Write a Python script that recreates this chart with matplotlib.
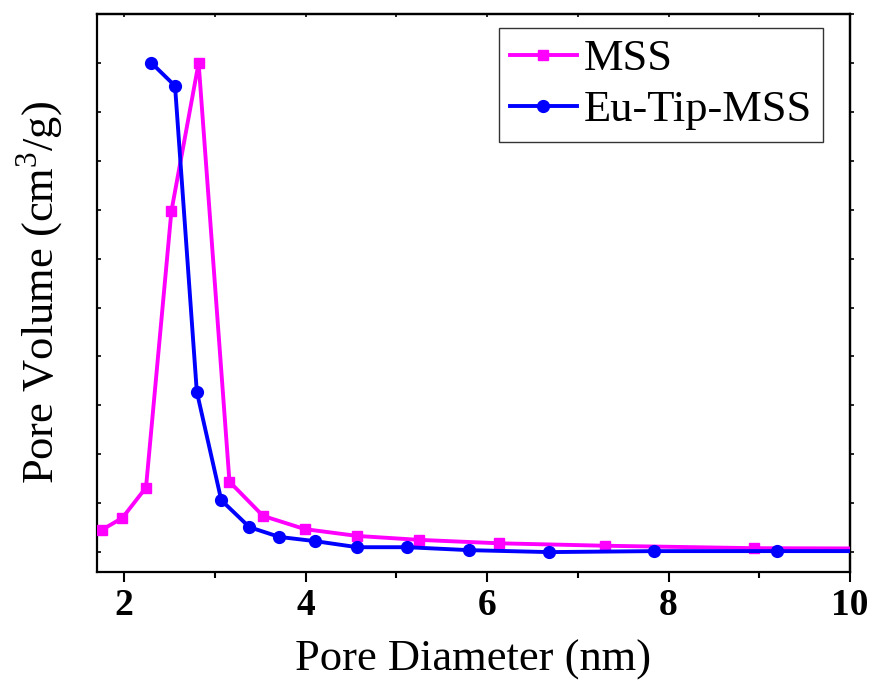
import matplotlib
matplotlib.use("Agg")
import matplotlib.pyplot as plt
from matplotlib.ticker import MultipleLocator, NullFormatter

# Data (y in arbitrary pore-volume units)
mss_x = [1.75, 1.98, 2.24, 2.52, 2.82, 3.16, 3.53, 3.99, 4.57, 5.25, 6.13, 7.30, 8.94, 10.9]
mss_y = [0.045, 0.070, 0.132, 0.697, 1.000, 0.144, 0.074, 0.047, 0.033, 0.025, 0.018, 0.013, 0.008, 0.007]
eu_x = [2.30, 2.56, 2.80, 3.07, 3.38, 3.71, 4.10, 4.57, 5.12, 5.80, 6.68, 7.84, 9.20, 10.9]
eu_y = [1.000, 0.953, 0.328, 0.106, 0.051, 0.031, 0.0225, 0.010, 0.010, 0.004, 0.000, 0.002, 0.002, 0.002]
labels = ["MSS", "Eu-Tip-MSS"]
xlabel = "Pore Diameter (nm)"
ylabel = "Pore Volume (cm$^3$/g)"

plt.rcParams['font.family'] = ['Liberation Serif', 'DejaVu Serif']
plt.rcParams['mathtext.fontset'] = 'custom'
plt.rcParams['mathtext.rm'] = 'Liberation Serif'

fig = plt.figure(figsize=(8.74, 6.91), dpi=100)
ax = fig.add_axes([0.111, 0.1727, 0.8615, 0.807])

ax.plot(mss_x, mss_y, color='#FF00FF', lw=2.8, marker='s', ms=7, label=labels[0], zorder=3)
ax.plot(eu_x, eu_y, color='#0000FF', lw=2.8, marker='o', ms=8.5, label=labels[1], zorder=3)

ax.set_xlim(1.70, 10.0)
ax.set_ylim(-0.04, 1.10)

ax.xaxis.set_major_locator(MultipleLocator(2))
ax.xaxis.set_minor_locator(MultipleLocator(1))
ax.yaxis.set_major_locator(MultipleLocator(0.1))
ax.yaxis.set_major_formatter(NullFormatter())

for s in ax.spines.values():
    s.set_linewidth(1.6)

ax.tick_params(axis='x', which='major', direction='out', length=7, width=1.5,
               labelsize=27, pad=5, top=False)
ax.tick_params(axis='x', which='minor', direction='out', length=4, width=1.5, top=False)
ax.tick_params(axis='y', which='major', direction='in', length=3, width=1.2, left=True, right=False)
for lab in ax.get_xticklabels():
    lab.set_fontweight('bold')

# mirrored ticks: top inward, right outward
sec_top = ax.secondary_xaxis('top')
sec_top.xaxis.set_major_locator(MultipleLocator(1))
sec_top.tick_params(axis='x', direction='in', length=2.5, width=1.2, labeltop=False)
sec_top.spines['top'].set_linewidth(1.6)
sec_right = ax.secondary_yaxis('right')
sec_right.yaxis.set_major_locator(MultipleLocator(0.1))
sec_right.tick_params(axis='y', direction='out', length=3, width=1.2, labelright=False)
sec_right.spines['right'].set_linewidth(1.6)

ax.set_xlabel(xlabel, fontsize=32, labelpad=12)
ax.set_ylabel(ylabel, fontsize=32, labelpad=19)

leg = ax.legend(loc='upper right', bbox_to_anchor=(0.964, 0.975), fontsize=32,
                frameon=True, fancybox=False, edgecolor='black', numpoints=1,
                handlelength=1.5, handletextpad=0.15, labelspacing=0.25,
                borderpad=0.25, borderaxespad=0.0)
leg.get_frame().set_linewidth(1.0)

fig.savefig("out.png", dpi=100)
